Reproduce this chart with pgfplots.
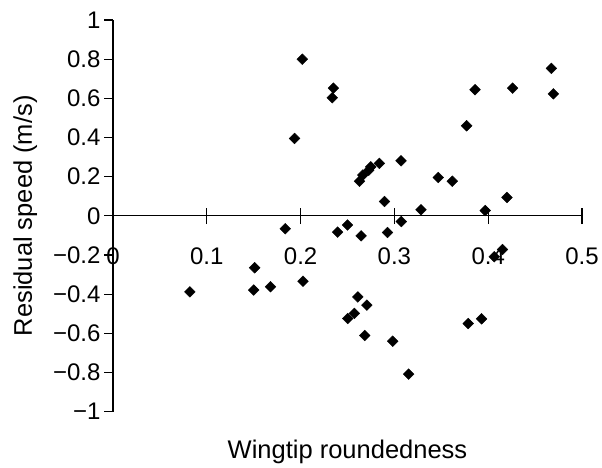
\documentclass[border=0pt]{standalone}
\usepackage{fontspec}
\setmainfont{Liberation Sans}
\usepackage{pgfplots}
\pgfplotsset{compat=1.18}
\begin{document}
\begin{tikzpicture}
\begin{axis}[
  at={(113pt,56.3pt)}, anchor=south west,
  width=469pt, height=391.7pt, scale only axis,
  xmin=0, xmax=0.5, ymin=-1, ymax=1,
  axis lines=middle,
  axis line style={-, line width=1.3pt, black},
  hide obscured x ticks=false, hide obscured y ticks=false,
  major tick length=9pt, minor tick length=16.6pt,
  xtick align=center, ytick align=outside,
  tick style={line width=1.3pt, black},
  xtick={0,0.1,0.2,0.3,0.4,0.5},
  minor xtick={0,0.1,0.2,0.3,0.4,0.5},
  xticklabels={0,0.1,0.2,0.3,0.4,0.5},
  ytick={-1,-0.8,-0.6,-0.4,-0.2,0,0.2,0.4,0.6,0.8,1},
  yticklabels={−1,−0.8,−0.6,−0.4,−0.2,0,0.2,0.4,0.6,0.8,1},
  tick label style={font=\fontsize{24}{28}\selectfont},
  xticklabel style={anchor=center, yshift=-36pt},
  xlabel={Wingtip roundedness},
  ylabel={Residual speed (m/s)},
  every axis x label/.style={at={(axis description cs:0.5,-0.103)}, anchor=center, font=\fontsize{25.5}{30}\selectfont},
  every axis y label/.style={at={(axis description cs:-0.187,0.5)}, anchor=center, rotate=90, font=\fontsize{25.5}{30}\selectfont},
  clip=false,
]
\addplot[only marks, mark=square*, mark size=3.8pt, mark options={rotate=45, fill=black, draw=black}] coordinates {
(0.0819,-0.388) (0.151,-0.265) (0.150,-0.379) (0.168,-0.362) (0.1837,-0.066)
(0.1936,0.395) (0.2018,0.800) (0.2025,-0.334) (0.235,0.652) (0.2337,0.603)
(0.2394,-0.083) (0.25,-0.047) (0.2645,-0.102) (0.2628,0.177) (0.2663,0.208)
(0.2727,0.233) (0.2748,0.250) (0.284,0.268) (0.3071,0.281) (0.2894,0.073)
(0.2926,-0.085) (0.3074,-0.029) (0.3284,0.031) (0.3468,0.196) (0.3617,0.177)
(0.377,0.460) (0.386,0.644) (0.3968,0.027) (0.420,0.094) (0.426,0.652)
(0.4674,0.753) (0.4695,0.623) (0.4152,-0.172) (0.4064,-0.209) (0.261,-0.414)
(0.2706,-0.456) (0.2574,-0.498) (0.2503,-0.524) (0.2684,-0.611) (0.2982,-0.640)
(0.3152,-0.808) (0.3787,-0.550) (0.3929,-0.526)
};
\end{axis}
\pgfresetboundingbox
\path[use as bounding box] (0,0) rectangle (602pt,468pt);
\end{tikzpicture}
\end{document}
